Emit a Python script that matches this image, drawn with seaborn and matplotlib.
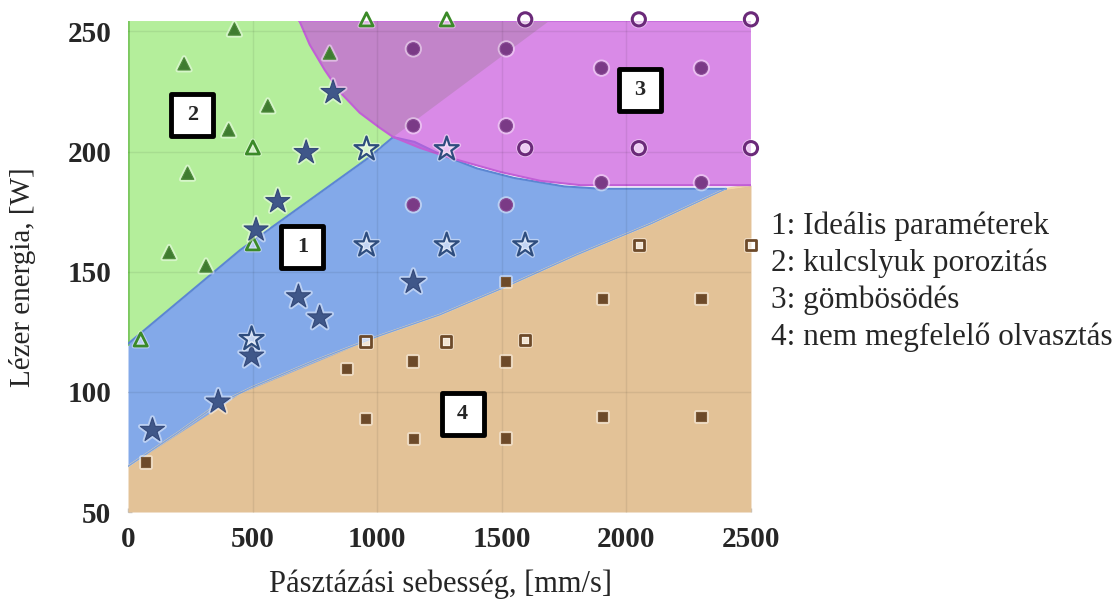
import numpy as np
import pandas as pd
import matplotlib
matplotlib.use("Agg")
import matplotlib.pyplot as plt
import matplotlib.patheffects as pe
from matplotlib.markers import MarkerStyle
import seaborn as sns

# ---- process-window regions (scan speed mm/s, laser power W) ----
lack_top_x = [0, 200, 362, 500, 750, 1000, 1250, 1500, 1800, 2100, 2400, 2500]
lack_top_y = [69, 83, 95, 102, 113, 123, 132, 143, 157, 170, 184.5, 186]

ideal_top_x = [0, 450, 960, 1064, 1150, 1250, 1400, 1550, 1750, 1900, 2400]
ideal_top_y = [120, 159, 197, 206, 204, 199, 193, 189, 185.5, 184.5, 184.5]

keyhole_edge_x = [1064, 1690]
keyhole_edge_y = [206, 254.3]

ball_edge_x = [688, 729, 789, 849, 930, 1010, 1063, 1172, 1292, 1494, 1655, 1816, 2500]
ball_edge_y = [254.3, 244.5, 234.0, 224.9, 216.1, 209.9, 206.1, 201.5, 197.4, 191.5,
               187.8, 186.0, 186.0]

# ---- experiments ----
tri_filled_x = [427, 809, 225, 561, 404, 239, 165, 313]
tri_filled_y = [251, 241, 236.5, 219, 209, 191, 158, 152.4]
tri_open_x = [957, 1279, 501, 501, 51]
tri_open_y = [255, 255, 201.7, 161.8, 121.8]

star_filled_x = [823, 715, 601, 514, 684, 769, 1145, 496, 362, 98]
star_filled_y = [224.6, 199.6, 179.2, 167.4, 139.6, 130.8, 145.6, 114.9, 95.8, 84]
star_open_x = [957, 1279, 957, 1279, 1594, 496]
star_open_y = [201, 201, 161, 161, 161, 122]

circ_filled_x = [1145, 1518, 1145, 1518, 1145, 1518, 1900, 2301, 1900, 2301]
circ_filled_y = [242.7, 242.7, 210.7, 210.7, 177.8, 177.8, 234.7, 234.7, 187, 187]
circ_open_x = [1594, 2050, 2500, 1594, 2050, 2500]
circ_open_y = [255, 255, 255, 201.4, 201.4, 201.4]

sq_filled_x = [71, 876, 1141, 953, 1145, 1514, 1514, 1514, 1903, 2299, 1903, 2299]
sq_filled_y = [70.8, 109.7, 112.8, 88.9, 80.6, 145.8, 112.8, 80.8, 138.9, 138.9, 89.6, 89.6]
sq_open_x = [953, 1276, 1594, 2050, 2500]
sq_open_y = [121, 121, 121.5, 161, 161]

region_ids = ["1", "2", "3", "4"]
region_id_x = [700, 258, 2054, 1343]
region_id_y = [160.3, 215.3, 225.7, 90.7]

legend_lines = [
    "1: Ideális paraméterek",
    "2: kulcslyuk porozitás",
    "3: gömbösödés",
    "4: nem megfelelő olvasztás",
]

x_ticks = [0, 500, 1000, 1500, 2000, 2500]
y_ticks = [50, 100, 150, 200, 250]

sns.set_style("white")
plt.rcParams["font.family"] = ["Liberation Serif", "DejaVu Serif"]

fig = plt.figure(figsize=(11.18, 6.06), dpi=100)
ax = fig.add_axes([0.1145, 0.1551, 0.5572, 0.8102])
ax.set_xlim(0, 2500)
ax.set_ylim(50, 254.3)
YTOP = 254.3

# colours
C_GREEN = "#b4ee9b"
C_BLUE = "#83a9e9"
C_ORANGE = "#e3c297"
C_PURPLE = "#c958de"

# lack of fusion region (bottom)
lx = np.array(lack_top_x, float)
ly = np.array(lack_top_y, float)
ax.fill_between(lx, 50, ly, color=C_ORANGE, lw=0, zorder=1)
ax.plot(lx, ly, color="#f2d7a8", lw=1.5, zorder=1.2)

# keyhole region (upper left)
ix = np.array(ideal_top_x, float)
iy = np.array(ideal_top_y, float)
k = ideal_top_x.index(1064)
gx = list(ix[:k + 1]) + [keyhole_edge_x[1], 0]
gy = list(iy[:k + 1]) + [keyhole_edge_y[1], YTOP]
ax.fill(gx, gy, color=C_GREEN, lw=0, zorder=1)
ax.plot([0, 0], [120, YTOP], color="#7cc860", lw=2, zorder=1.2)

# ideal window (blue band)
lower_on_ix = np.interp(ix, lx, ly)
ax.fill_between(ix, lower_on_ix, iy, color=C_BLUE, lw=0, zorder=1)
ax.plot(ix, iy, color="#5b86d2", lw=1.5, zorder=1.3)
ax.plot(lx[lx <= 2400], ly[lx <= 2400], color="#7da3e0", lw=1.0, zorder=1.3)

# balling region (semi transparent over keyhole region)
px = list(ball_edge_x) + [2500, ball_edge_x[0]]
py = list(ball_edge_y) + [YTOP, YTOP]
ax.fill(px, py, color=C_PURPLE, alpha=0.7, lw=0, zorder=1.4)
ax.plot(ball_edge_x, ball_edge_y, color="#c15fd6", lw=1.5, zorder=1.5,
        solid_joinstyle="round")
ax.plot([ball_edge_x[0], 2500], [YTOP, YTOP], color="#c86fdc", lw=1.5, zorder=1.5)

# faint grid
for gxv in x_ticks[1:-1]:
    ax.axvline(gxv, color=(0, 0, 0, 0.07), lw=1, zorder=1.6)
for gyv in y_ticks[1:]:
    ax.axhline(gyv, color=(0, 0, 0, 0.07), lw=1, zorder=1.6)

halo = [pe.Stroke(linewidth=3.5, foreground=(1, 1, 1, 0.45)), pe.Normal()]


def points(xs, ys, marker, size, face, edge, lw):
    sns.scatterplot(x=xs, y=ys, marker=marker, s=size, color=face,
                    edgecolor=edge, linewidth=lw, clip_on=False, zorder=4, ax=ax,
                    legend=False)
    ax.collections[-1].set_path_effects(halo)


points(tri_filled_x, tri_filled_y, "^", 80, "#3f7c30", "#4f8c3c", 0.8)
points(tri_open_x, tri_open_y, "^", 90, (1, 1, 1, 0.25), "#3b8a28", 2.0)
points(star_filled_x, star_filled_y, "*", 330, "#3f5789", "#34497a", 0.8)
points(star_open_x, star_open_y, "*", 330, (1, 1, 1, 0.3), "#2e4d7e", 1.6)
points(circ_filled_x, circ_filled_y, "o", 80, "#7a3a86", "#8a4a96", 0.8)
points(circ_open_x, circ_open_y, "o", 90, (1, 1, 1, 0.35), "#6b2a79", 2.2)
points(sq_filled_x, sq_filled_y, "s", 45, "#6d4a2a", "#7d5a38", 0.8)
points(sq_open_x, sq_open_y, "s", 55, (1, 1, 1, 0.35), "#6d4a2a", 2.0)

# numbered region tags
box_marker = MarkerStyle("s", joinstyle="round")
for lab, tx, ty in zip(region_ids, region_id_x, region_id_y):
    ax.plot(tx, ty, marker=box_marker, ms=30, mfc="white", mec="black",
            mew=3.5, zorder=6, linestyle="none")
    ax.text(tx, ty, lab, ha="center", va="center", fontsize=16,
            fontweight="bold", zorder=7)

# axes styling
for s in ax.spines.values():
    s.set_visible(False)
ax.set_xticks(x_ticks)
ax.set_yticks(y_ticks)
ax.set_xticklabels([str(t) for t in x_ticks], fontsize=21, fontweight="bold")
ax.set_yticklabels([str(t) for t in y_ticks], fontsize=21, fontweight="bold")
ax.tick_params(axis="both", direction="in", length=3, width=1,
               color=(0, 0, 0, 0.25), bottom=True, left=True)
ax.tick_params(axis="x", pad=10)
ax.tick_params(axis="y", pad=12)
ax.grid(False)

fig.text(0.394, 0.036, "Pásztázási sebesség, [mm/s]", ha="center", va="center",
         fontsize=22)
fig.text(0.020, 0.543, "Lézer energia, [W]", ha="center", va="center",
         fontsize=21, rotation=90)

for i, line in enumerate(legend_lines):
    fig.text(0.690, 1 - (226.7 + i * 36.7) / 606, line, ha="left",
             va="center", fontsize=22.5)

fig.savefig("out.png", dpi=100)
